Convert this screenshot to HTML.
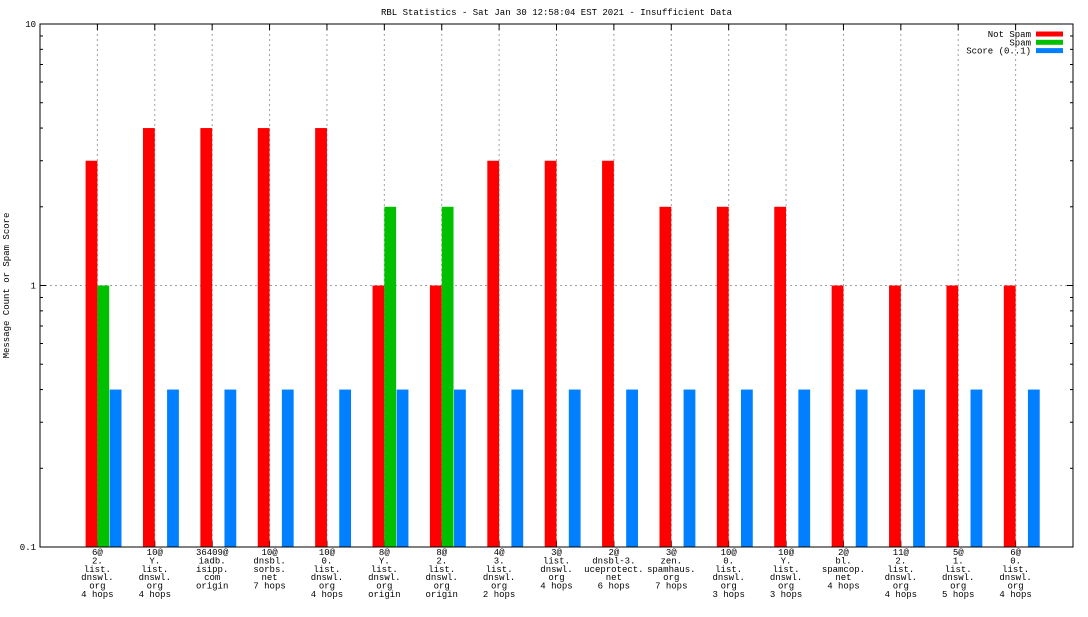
<!DOCTYPE html>
<html><head><meta charset="utf-8"><style>
body{margin:0;background:#fff}
svg text{font-family:"Liberation Mono","DejaVu Sans Mono",monospace;font-size:9px;fill:#000}
</style></head><body>
<svg id="chart" width="1088" height="612" xmlns="http://www.w3.org/2000/svg"></svg>
<script>
const categories=[
["6@","2.","list.","dnswl.","org","4 hops"],
["10@","Y.","list.","dnswl.","org","4 hops"],
["36409@","iadb.","isipp.","com","origin"],
["10@","dnsbl.","sorbs.","net","7 hops"],
["10@","0.","list.","dnswl.","org","4 hops"],
["8@","Y.","list.","dnswl.","org","origin"],
["8@","2.","list.","dnswl.","org","origin"],
["4@","3.","list.","dnswl.","org","2 hops"],
["3@","list.","dnswl.","org","4 hops"],
["2@","dnsbl-3.","uceprotect.","net","6 hops"],
["3@","zen.","spamhaus.","org","7 hops"],
["10@","0.","list.","dnswl.","org","3 hops"],
["10@","Y.","list.","dnswl.","org","3 hops"],
["2@","bl.","spamcop.","net","4 hops"],
["11@","2.","list.","dnswl.","org","4 hops"],
["5@","1.","list.","dnswl.","org","5 hops"],
["6@","0.","list.","dnswl.","org","4 hops"]];
const notSpam=[3,4,4,4,4,1,1,3,3,3,2,2,2,1,1,1,1];
const spam=[1,0,0,0,0,2,2,0,0,0,0,0,0,0,0,0,0];
const score=[0.4,0.4,0.4,0.4,0.4,0.4,0.4,0.4,0.4,0.4,0.4,0.4,0.4,0.4,0.4,0.4,0.4];
const yTicks=[0.1,1,10];
const yTickLabels=["0.1","1","10"];

const svg=document.getElementById('chart');
const NS="http://www.w3.org/2000/svg";
const L=40,R=1073,T=24,B=547;
const step=(R-L)/(categories.length+1);
const xs=i=>L+(i+1)*step;
const ys=v=>B-(Math.log10(v)-Math.log10(0.1))/2*(B-T);
function mk(tag,attrs,parent){const e=document.createElementNS(NS,tag);for(const k in attrs)e.setAttribute(k,attrs[k]);(parent||svg).appendChild(e);return e;}

const title=mk('text',{x:(L+R)/2,y:15,'text-anchor':'middle'});
title.textContent="RBL Statistics - Sat Jan 30 12:58:04 EST 2021 - Insufficient Data";



const yt=mk('text',{x:0,y:0,'text-anchor':'middle',transform:`translate(9,${(T+B)/2}) rotate(-90)`});
yt.textContent="Message Count or Spam Score";



// grid
yTicks.forEach((v,i)=>{
  const y=ys(v);
  if(i>0&&i<yTicks.length-1){const g=mk('line',{x1:L,x2:R,y1:y,y2:y,stroke:'#a0a0a0','stroke-dasharray':'2,3'});
  }
  const t=mk('text',{x:L-4,y:y+3,'text-anchor':'end'});t.textContent=yTickLabels[i];
  
  
  mk('line',{x1:L,x2:L+6,y1:y,y2:y,stroke:'#000'});
  mk('line',{x1:R,x2:R-6,y1:y,y2:y,stroke:'#000'});
});
// minor ticks
[0.2,0.3,0.4,0.5,0.6,0.7,0.8,0.9,2,3,4,5,6,7,8,9].forEach(v=>{const y=ys(v);
  mk('line',{x1:L,x2:L+3,y1:y,y2:y,stroke:'#000'});mk('line',{x1:R,x2:R-3,y1:y,y2:y,stroke:'#000'});});

categories.forEach((c,i)=>{
  const x=xs(i);
  const g=mk('line',{x1:x,x2:x,y1:T,y2:B,stroke:'#a0a0a0','stroke-dasharray':'2,3'});
  
  
  mk('line',{x1:x,x2:x,y1:B,y2:B-6,stroke:'#000'});
  mk('line',{x1:x,x2:x,y1:T,y2:T+6,stroke:'#000'});
  const t=mk('text',{x:x,y:555,'text-anchor':'middle'});
  
  
  c.forEach((s,j)=>{const ts=mk('tspan',{x:x,dy:j?8.4:0},t);ts.textContent=s;});
  const bw=11.8;
  const series=[[notSpam,'#ff0000',-bw,'bar-not-spam'],[spam,'#00c000',0,'bar-spam'],[score,'#0080ff',bw+0.5,'bar-score']];
  series.forEach(([arr,col,off,name])=>{
    const v=arr[i]; if(!(v>0.1))return;
    const y=ys(v);
    const r=mk('rect',{x:x+off,y:y,width:bw,height:B-y,fill:col});
    
    
  });
});
const border=mk('rect',{x:L,y:T,width:R-L,height:B-T,fill:'none',stroke:'#000'});



// legend
[["Not Spam","#ff0000"],["Spam","#00c000"],["Score (0..1)","#0080ff"]].forEach(([lab,col],i)=>{
  const y=34+i*8.3;
  const t=mk('text',{x:1031,y:y+3,'text-anchor':'end'});t.textContent=lab;
  
  
  const r=mk('rect',{x:1036,y:y-2.5,width:27,height:5,fill:col});
  
  
});
</script>
</body></html>
